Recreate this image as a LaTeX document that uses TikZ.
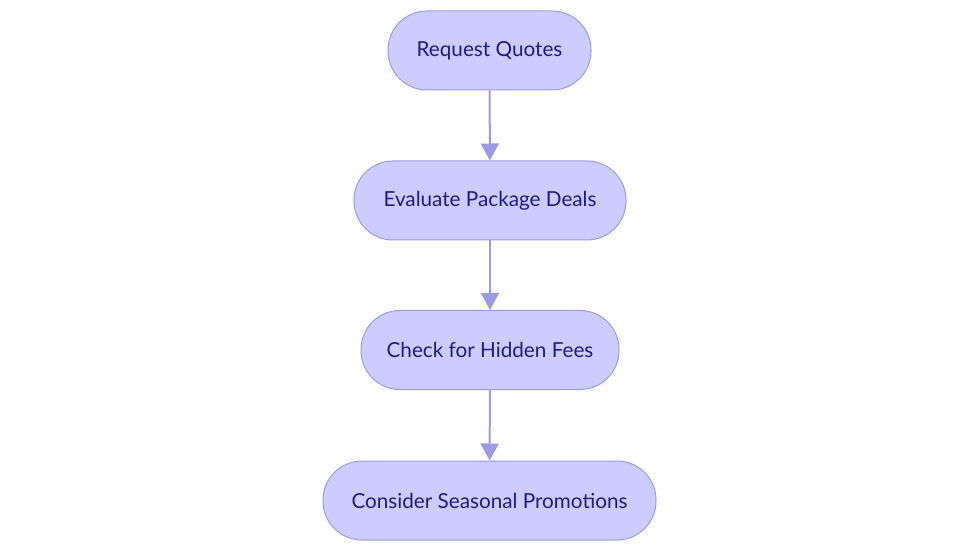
\documentclass[tikz,border=0pt]{standalone}
\usepackage{fontspec}
\setmainfont{Lato}
\usetikzlibrary{arrows.meta}
\definecolor{boxfill}{HTML}{CCCCFF}
\definecolor{boxdraw}{HTML}{9A9AE6}
\definecolor{boxtext}{HTML}{1C1C8A}
\definecolor{arrowc}{HTML}{9A9AE6}
\tikzset{
  stepbox/.style={draw=boxdraw, fill=boxfill, line width=1pt, rounded corners=39pt,
    minimum height=79pt, text=boxtext, font=\fontsize{20.7}{24}\selectfont, inner sep=0pt},
  flowarrow/.style={draw=arrowc, line width=2pt, -{Triangle[length=17pt,width=18pt]}}
}
\begin{document}
\begin{tikzpicture}[x=1pt,y=-1pt]
\useasboundingbox (0,0) rectangle (980,553);
\node[stepbox, minimum width=203pt] (a) at (489.5,50.5) {Request Quotes};
\node[stepbox, minimum width=272pt] (b) at (490,200.5) {Evaluate Package Deals};
\node[stepbox, minimum width=258pt] (c) at (490,350) {Check for Hidden Fees};
\node[stepbox, minimum width=333pt] (d) at (489.5,500.5) {Consider Seasonal Promotions};
\draw[flowarrow] (a) -- (b);
\draw[flowarrow] (b) -- (c);
\draw[flowarrow] (c) -- (d);
\end{tikzpicture}
\end{document}
